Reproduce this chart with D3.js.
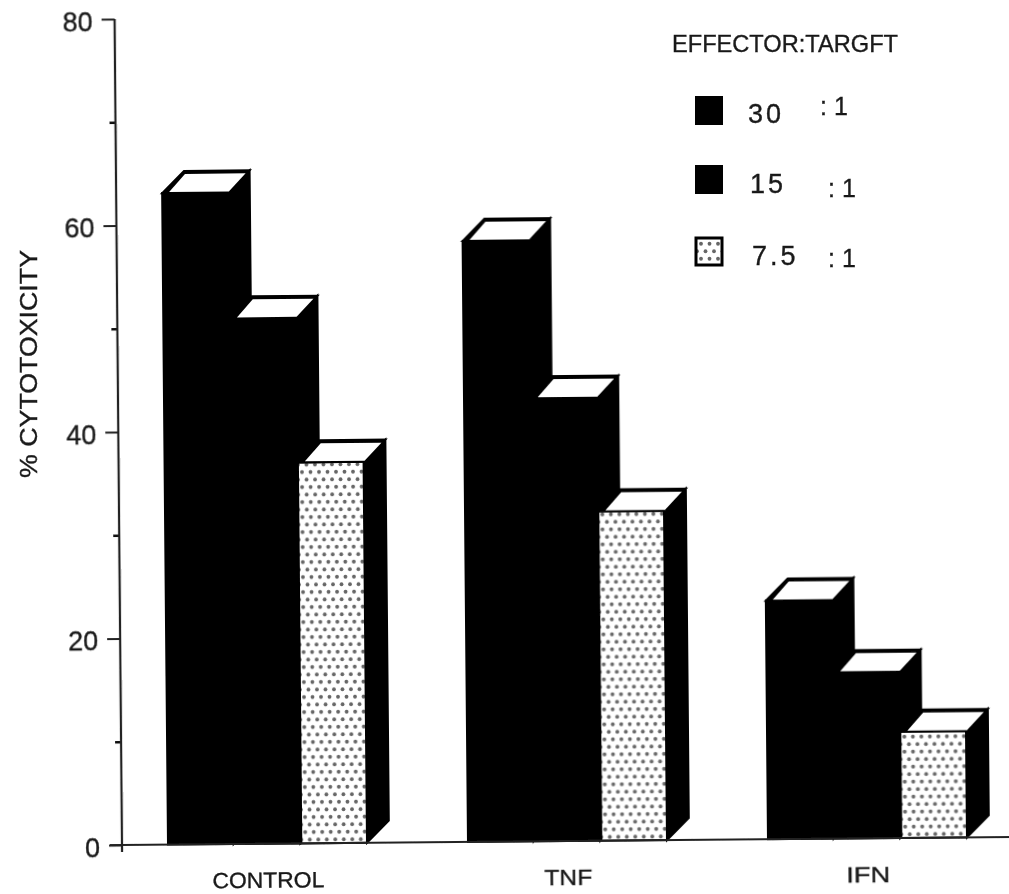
<!DOCTYPE html>
<html>
<head>
<meta charset="utf-8">
<script src="https://cdn.jsdelivr.net/npm/d3@7"></script>
<style>
html, body { margin: 0; padding: 0; background: #fff; }
svg { display: block; }
text { font-family: "Liberation Sans", Arial, sans-serif; fill: #1a1a1a; stroke: #1a1a1a; stroke-width: 0.35px; }
</style>
</head>
<body>
<div id="chart"></div>
<script>
var categories = ["CONTROL", "TNF", "IFN"];
var ratios = ["30", "15", "7.5"];
var values30 = [63.1, 58.2, 23.1];
var values15 = [50.9, 42.9, 16.1];
var values75 = [36.9, 31.9, 10.3];
var yMajor = [0, 20, 40, 60, 80];
var yMinor = [10, 30, 50, 70];

var width = 1009, height = 894;
var depth = 22; // offset of the fake 3d back face

var svg = d3.select("#chart").append("svg").attr("width", width).attr("height", height);
var defs = svg.append("defs");

var blur = defs.append("filter").attr("id", "scan");
blur.append("feGaussianBlur").attr("stdDeviation", 0.55);

var dots = defs.append("pattern").attr("id", "dots")
    .attr("patternUnits", "userSpaceOnUse").attr("width", 17).attr("height", 15);
dots.append("rect").attr("width", 17).attr("height", 15).attr("fill", "#fff");
[[4, 3.75], [12.5, 3.75], [0, 11.25], [8.5, 11.25], [17, 11.25]].forEach(function(d) {
    dots.append("circle").attr("cx", d[0]).attr("cy", d[1]).attr("r", 1.9).attr("fill", "#666");
});

var page = svg.append("g").attr("filter", "url(#scan)");

// the scan is a little crooked, whole plot turns about the origin
var plot = page.append("g").attr("transform", "translate(122,845) rotate(-0.515)");

var y = d3.scaleLinear().domain([0, 80]).range([0, -826]);
var x = d3.scaleBand().domain(categories).range([-4, 896]);
var inner = d3.scaleBand().domain(ratios).range([50, 250]);
var bars = [];
categories.forEach(function(c, i) {
    bars.push({cat: c, ratio: "30", value: values30[i]});
    bars.push({cat: c, ratio: "15", value: values15[i]});
    bars.push({cat: c, ratio: "7.5", value: values75[i]});
});

var w = inner.bandwidth() - 1;

var bar = plot.selectAll(".bar").data(bars).enter().append("g").attr("class", "bar")
    .attr("transform", function(d) { return "translate(" + (x(d.cat) + inner(d.ratio)) + ",0)"; });

bar.append("path")
    .attr("fill", "#000").attr("stroke", "#000").attr("stroke-width", 2)
    .attr("d", function(d) {
        var t = y(d.value);
        return "M" + w + ",0L" + (w + depth) + "," + (-depth) + "L" + (w + depth) + "," + (t - depth) + "L" + w + "," + t + "Z";
    });

bar.append("rect")
    .attr("x", 0).attr("width", w)
    .attr("y", function(d) { return y(d.value); })
    .attr("height", function(d) { return -y(d.value); })
    .attr("stroke", "#000").attr("stroke-width", 2)
    .attr("fill", function(d) { return d.ratio === "7.5" ? "url(#dots)" : "#000"; });

// top face, black outer shape with the white inset on it
bar.append("path")
    .attr("fill", "#000").attr("stroke", "#000").attr("stroke-width", 2)
    .attr("d", function(d) {
        var t = y(d.value);
        return "M0," + t + "L" + depth + "," + (t - depth) + "L" + (w + depth) + "," + (t - depth) + "L" + w + "," + t + "Z";
    });
bar.append("path")
    .attr("fill", "#fff")
    .attr("d", function(d) {
        var t = y(d.value);
        return "M7," + (t - 1) + "L23," + (t - 19) + "L" + (w + 18) + "," + (t - 19) + "L" + (w + 1) + "," + (t - 1) + "Z";
    });

// axes
var yAxis = d3.axisLeft(y).tickValues(yMajor).tickSize(13).tickPadding(9).tickFormat(d3.format("d"));
var yG = plot.append("g").call(yAxis);
yG.select(".domain").remove();
yG.selectAll("line").attr("stroke", "#222").attr("stroke-width", 2);
yG.selectAll("text").attr("font-size", 27).attr("dy", "0.42em").style("font-family", "'Liberation Sans'");

var yMinorG = plot.append("g").call(d3.axisLeft(y).tickValues(yMinor).tickSize(6).tickFormat(""));
yMinorG.select(".domain").remove();
yMinorG.selectAll("line").attr("stroke", "#111").attr("stroke-width", 2.5);

plot.append("line").attr("x1", 0).attr("x2", 0).attr("y1", y(80)).attr("y2", 7)
    .attr("stroke", "#222").attr("stroke-width", 2.2);

var xAxis = d3.axisBottom(x).tickSize(0).tickPadding(30);
var xG = plot.append("g").call(xAxis);
xG.select(".domain").remove();
xG.selectAll("text").attr("font-size", 22).attr("dy", 0).attr("y", 44)
    .style("font-family", "'Liberation Sans'");
xG.selectAll("text").attr("textLength", function(d) { return d === "CONTROL" ? 112 : d === "TNF" ? 48 : 44; })
    .attr("lengthAdjust", "spacingAndGlyphs");

plot.append("line").attr("x1", -12).attr("x2", 900).attr("y1", 0).attr("y2", 0)
    .attr("stroke", "#222").attr("stroke-width", 2.2);

// y title
page.append("text")
    .attr("transform", "translate(37,478) rotate(-90)")
    .attr("font-size", 24).attr("textLength", 228).attr("lengthAdjust", "spacingAndGlyphs")
    .text("% CYTOTOXICITY");

// legend
page.append("text").attr("x", 672).attr("y", 52)
    .attr("font-size", 24).attr("textLength", 226).attr("lengthAdjust", "spacingAndGlyphs")
    .text("EFFECTOR:TARGFT");

var legendSwatchY = [97, 166, 238];
var legendTextX = [748, 750, 752];
var legendTextY = [123, 193, 265];
var legendColonX = [820, 828, 828];
var legendColonY = [115, 197, 267];

ratios.forEach(function(r, i) {
    page.append("rect").attr("x", 696).attr("y", legendSwatchY[i]).attr("width", 26).attr("height", 27)
        .attr("stroke", "#000").attr("stroke-width", r === "7.5" ? 3 : 2)
        .attr("fill", r === "7.5" ? "url(#dots)" : "#000");
    page.append("text").attr("x", legendTextX[i]).attr("y", legendTextY[i])
        .attr("font-size", 27).attr("letter-spacing", 3).text(r);
    page.append("text").attr("x", legendColonX[i]).attr("y", legendColonY[i])
        .attr("font-size", 25).text(": 1");
});
</script>
</body>
</html>
